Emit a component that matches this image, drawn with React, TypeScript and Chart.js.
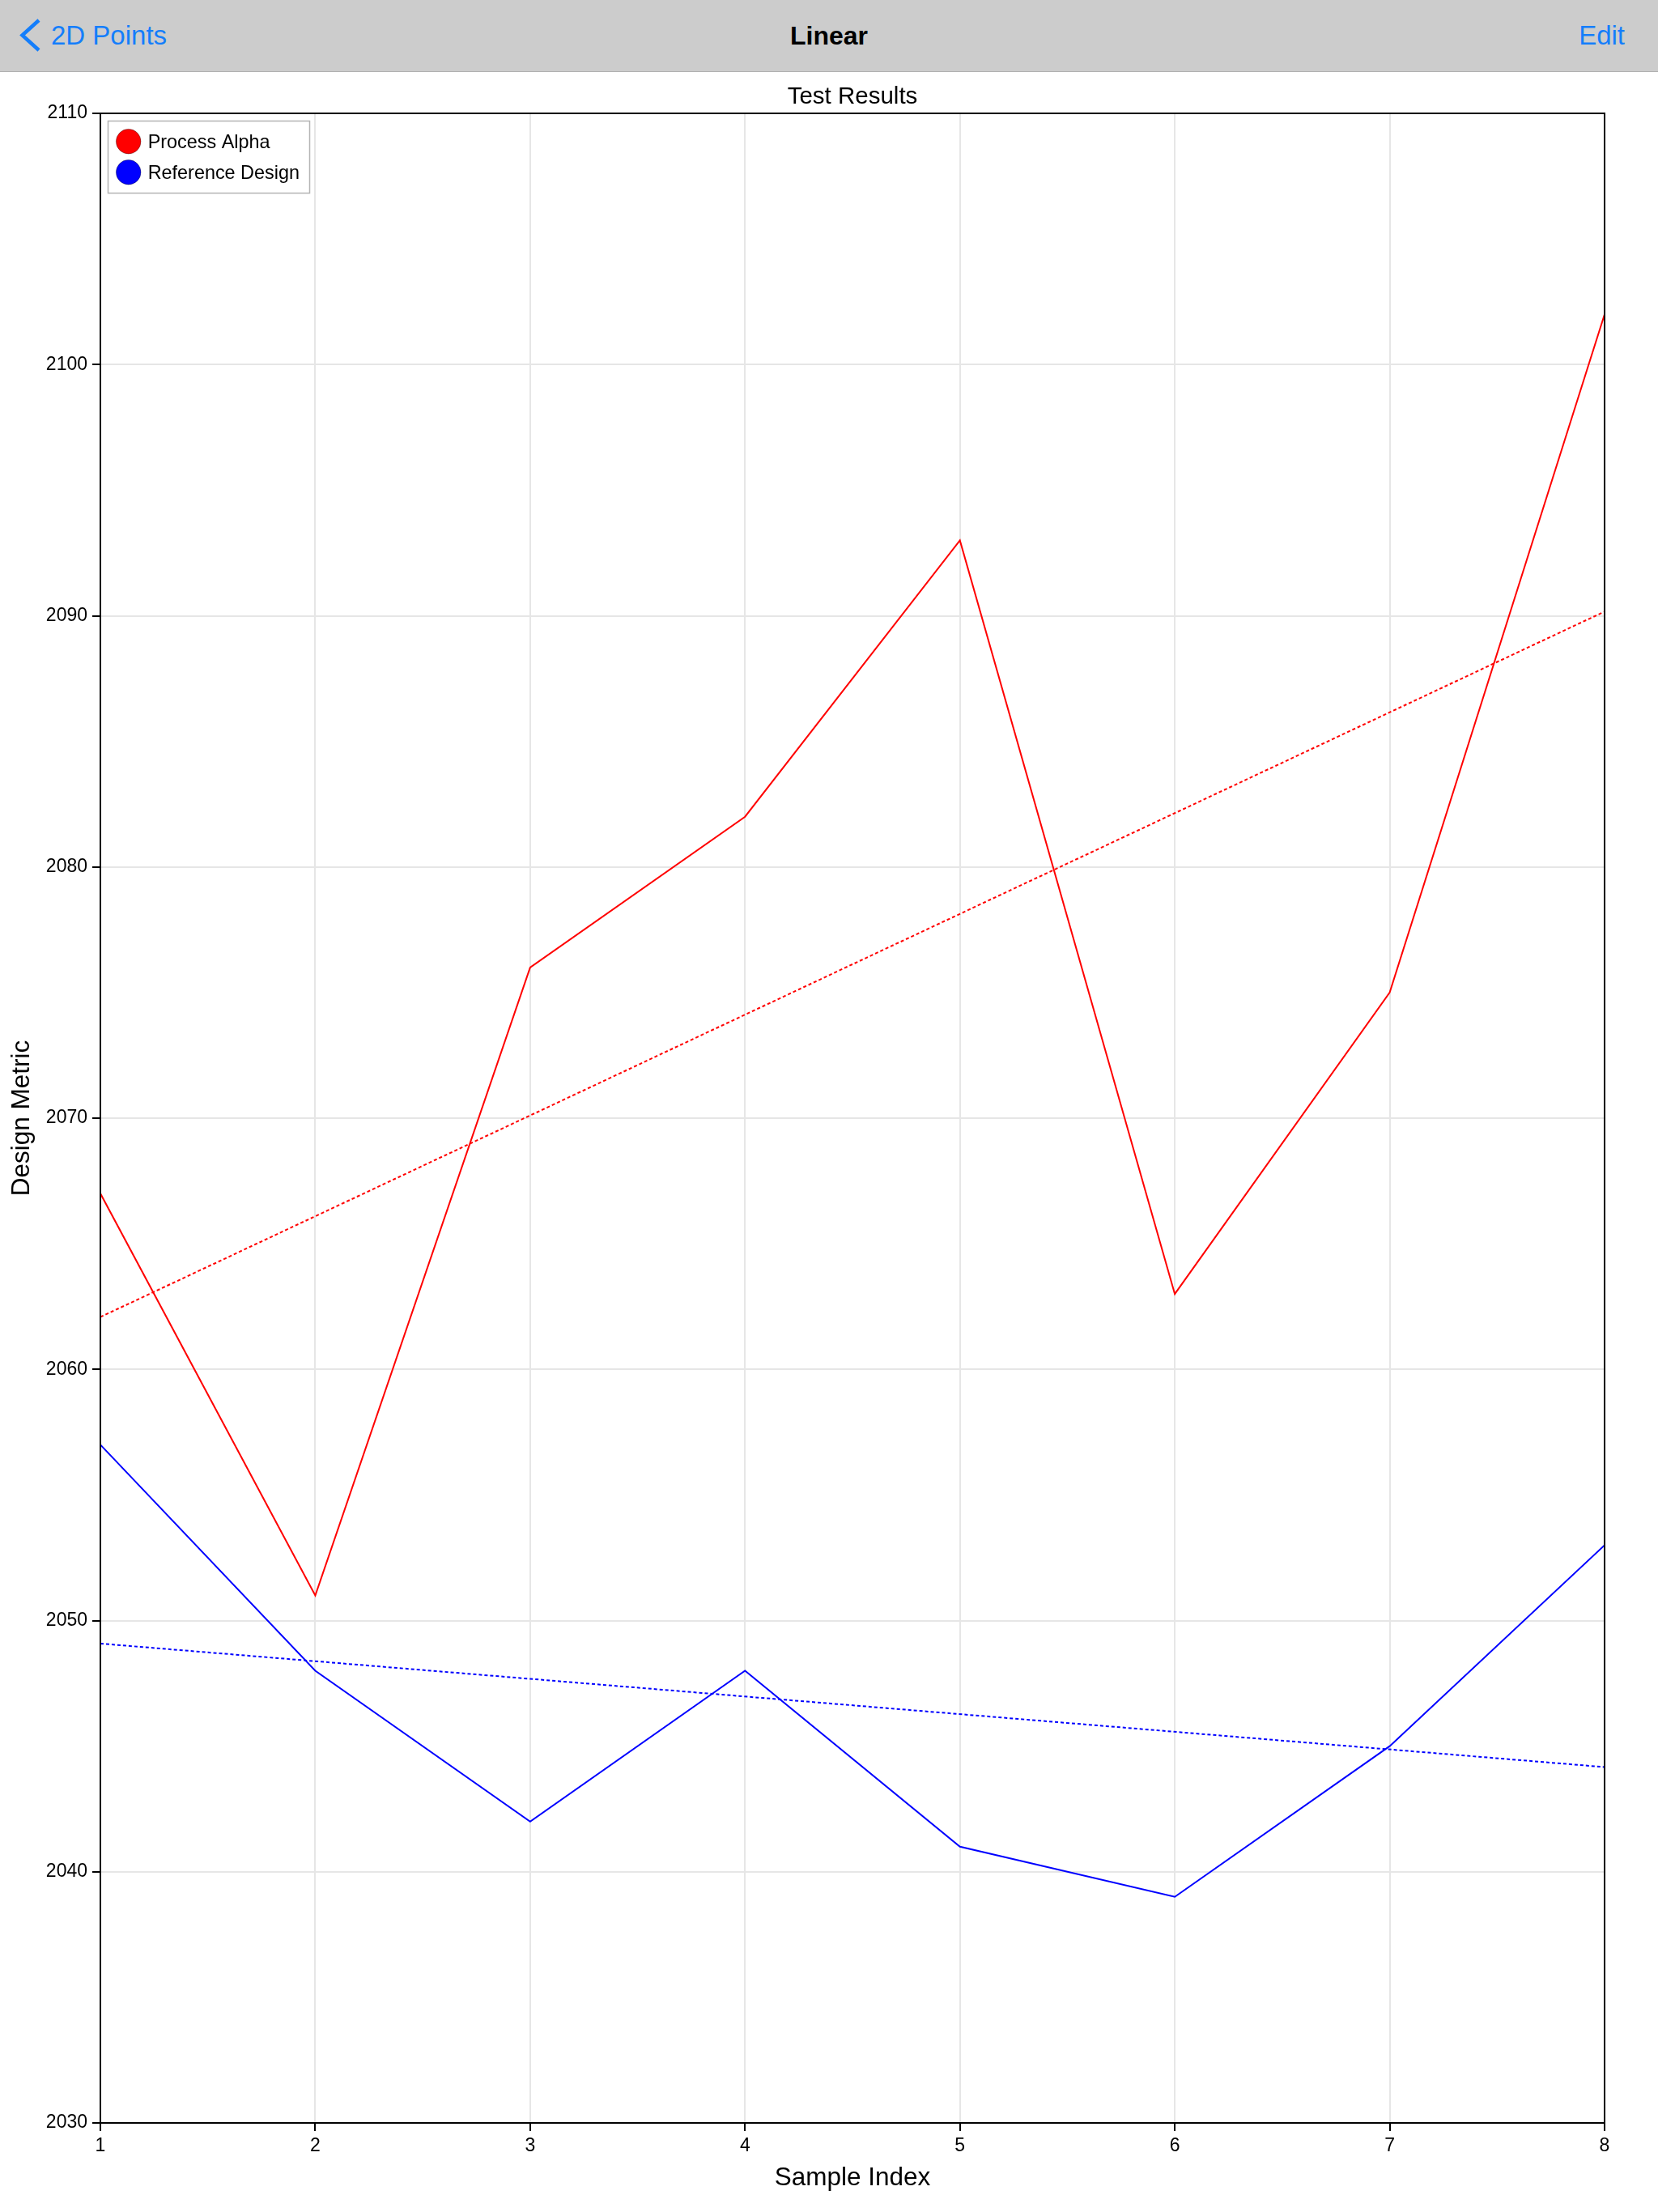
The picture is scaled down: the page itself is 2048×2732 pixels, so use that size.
import React, { useEffect, useRef } from "react";
import { Chart, registerables } from "chart.js";

Chart.register(...registerables);

// ---- Data ----
const sampleIndex = [1, 2, 3, 4, 5, 6, 7, 8];
const processAlpha = [2067, 2051, 2076, 2082, 2093, 2063, 2075, 2102];
const referenceDesign = [2057, 2048, 2042, 2048, 2041, 2039, 2045, 2053];
const seriesNames = ["Process Alpha", "Reference Design"];
const seriesColors = ["#ff0000", "#0000ff"];
const yMin = 2030;
const yMax = 2110;
const yStep = 10;
const xMin = 1;
const xMax = 8;

const FONT = "'Liberation Sans', Arial, Helvetica, sans-serif";

// least-squares trend line through a series, evaluated at the ends of the x range
function trend(xs: number[], ys: number[]) {
  const n = xs.length;
  const mx = xs.reduce((a, b) => a + b, 0) / n;
  const my = ys.reduce((a, b) => a + b, 0) / n;
  let sxy = 0;
  let sxx = 0;
  for (let i = 0; i < n; i++) {
    sxy += (xs[i] - mx) * (ys[i] - my);
    sxx += (xs[i] - mx) * (xs[i] - mx);
  }
  const slope = sxy / sxx;
  const x0 = xs[0];
  const x1 = xs[n - 1];
  return [
    { x: x0, y: my + slope * (x0 - mx) },
    { x: x1, y: my + slope * (x1 - mx) },
  ];
}

const plotFrame = {
  id: "plotFrame",
  afterDraw(chart: any) {
    const { ctx, chartArea } = chart;
    const { left, top, right, bottom } = chartArea;
    ctx.save();
    ctx.strokeStyle = "#000";
    ctx.lineWidth = 2;
    ctx.strokeRect(left, top, right - left, bottom - top);
    ctx.restore();
  },
};

const boxedLegend = {
  id: "boxedLegend",
  afterDraw(chart: any) {
    const { ctx, chartArea } = chart;
    const items = chart.data.datasets.filter((d: any) => !d.isTrend);
    const bx = chartArea.left + 9.5;
    const by = chartArea.top + 9.5;
    const bw = 249;
    const bh = 89;
    ctx.save();
    ctx.fillStyle = "#fff";
    ctx.fillRect(bx, by, bw, bh);
    ctx.strokeStyle = "#b4b4b4";
    ctx.lineWidth = 1.5;
    ctx.strokeRect(bx, by, bw, bh);
    items.forEach((d: any, i: number) => {
      const cy = chartArea.top + 34.7 + i * 38;
      const cx = chartArea.left + 34.7;
      ctx.beginPath();
      ctx.arc(cx, cy, 15.3, 0, Math.PI * 2);
      ctx.fillStyle = d.borderColor;
      ctx.fill();
      ctx.strokeStyle = "rgba(0,0,0,0.35)";
      ctx.lineWidth = 1;
      ctx.stroke();
      ctx.fillStyle = "#000";
      ctx.font = `23.4px ${FONT}`;
      ctx.textAlign = "left";
      ctx.textBaseline = "middle";
      ctx.fillText(d.label, chartArea.left + 58.7, cy + 1.5);
    });
    ctx.restore();
  },
};

function ChartView() {
  const ref = useRef<HTMLCanvasElement | null>(null);
  useEffect(() => {
    if (!ref.current) return;
    const seriesData = [processAlpha, referenceDesign];
    const datasets: any[] = [];
    seriesData.forEach((vals, i) => {
      datasets.push({
        label: seriesNames[i],
        data: sampleIndex.map((x, j) => ({ x, y: vals[j] })),
        borderColor: seriesColors[i],
        backgroundColor: seriesColors[i],
        borderWidth: 2,
        pointRadius: 0,
        tension: 0,
      });
    });
    seriesData.forEach((vals, i) => {
      datasets.push({
        label: seriesNames[i] + " trend",
        isTrend: true,
        data: trend(sampleIndex, vals),
        borderColor: seriesColors[i],
        borderWidth: 2,
        borderDash: [4, 3],
        pointRadius: 0,
        tension: 0,
      });
    });

    const gridOpts = {
      color: "#e6e6e6",
      lineWidth: 2,
      tickColor: "#000",
      tickWidth: 2,
      tickLength: 10,
      drawTicks: true,
    };

    const chart = new Chart(ref.current, {
      type: "line",
      data: { datasets },
      options: {
        animation: false,
        responsive: false,
        devicePixelRatio: 1,
        layout: { padding: { top: 90, right: 66, left: 0, bottom: 0 } },
        plugins: {
          legend: { display: false },
          tooltip: { enabled: false },
          title: {
            display: true,
            text: "Test Results",
            fullSize: false,
            color: "#000",
            font: { family: FONT, size: 29.5, weight: "normal" as any, lineHeight: 1.2 },
            padding: { top: 12.5, bottom: 2.1 },
          },
        },
        scales: {
          x: {
            type: "linear",
            min: xMin,
            max: xMax,
            grid: gridOpts,
            border: { display: true, color: "#000", width: 2 },
            ticks: {
              stepSize: 1,
              color: "#000",
              padding: 5,
              font: { family: FONT, size: 23 },
              maxRotation: 0,
              callback: (v: any) => String(v),
            },
            title: {
              display: true,
              text: "Sample Index",
              color: "#000",
              font: { family: FONT, size: 31.5, lineHeight: 1.2 },
              padding: { top: 0, bottom: 23 },
            },
            afterFit: (scale: any) => {
              scale.height = 110;
            },
          },
          y: {
            type: "linear",
            min: yMin,
            max: yMax,
            grid: gridOpts,
            border: { display: true, color: "#000", width: 2 },
            ticks: {
              stepSize: yStep,
              color: "#000",
              padding: 6,
              font: { family: FONT, size: 23 },
              callback: (v: any) => String(v),
            },
            title: {
              display: true,
              text: "Design Metric",
              color: "#000",
              font: { family: FONT, size: 31.5, lineHeight: 1.2 },
              padding: { top: 8, bottom: 0 },
            },
            afterFit: (scale: any) => {
              scale.width = 124;
            },
          },
        },
      },
      plugins: [plotFrame, boxedLegend],
    } as any);
    return () => chart.destroy();
  }, []);
  return (
    <canvas
      ref={ref}
      width={2048}
      height={2732}
      style={{ position: "absolute", left: 0, top: 0, width: 2048, height: 2732, display: "block" }}
    />
  );
}

export default function App() {
  const blue = "#147efb";
  const textBase: React.CSSProperties = {
    position: "absolute",
    top: 27,
    lineHeight: "1",
    fontFamily: FONT,
    whiteSpace: "nowrap",
  };
  return (
    <div style={{ position: "absolute", left: 0, top: 0, width: 2048, height: 2732, background: "#fff", overflow: "hidden" }}>
      <ChartView />
      <div
        style={{
          position: "absolute",
          left: 0,
          top: 0,
          width: 2048,
          height: 88,
          background: "#cccccc",
          borderBottom: "1.5px solid #b0b0b0",
          zIndex: 2,
        }}
      >
        <svg width={60} height={88} style={{ position: "absolute", left: 0, top: 0 }}>
          <polyline points="48,25 27.5,43.5 48,62" fill="none" stroke={blue} strokeWidth={4.5} strokeLinejoin="miter" />
        </svg>
        <div style={{ ...textBase, left: 63, fontSize: 33, color: blue }}>2D Points</div>
        <div style={{ ...textBase, left: 0, width: 2048, textAlign: "center", fontSize: 32, fontWeight: 700, color: "#000", top: 28 }}>
          Linear
        </div>
        <div style={{ ...textBase, right: 41, fontSize: 33, color: blue }}>Edit</div>
      </div>
    </div>
  );
}
